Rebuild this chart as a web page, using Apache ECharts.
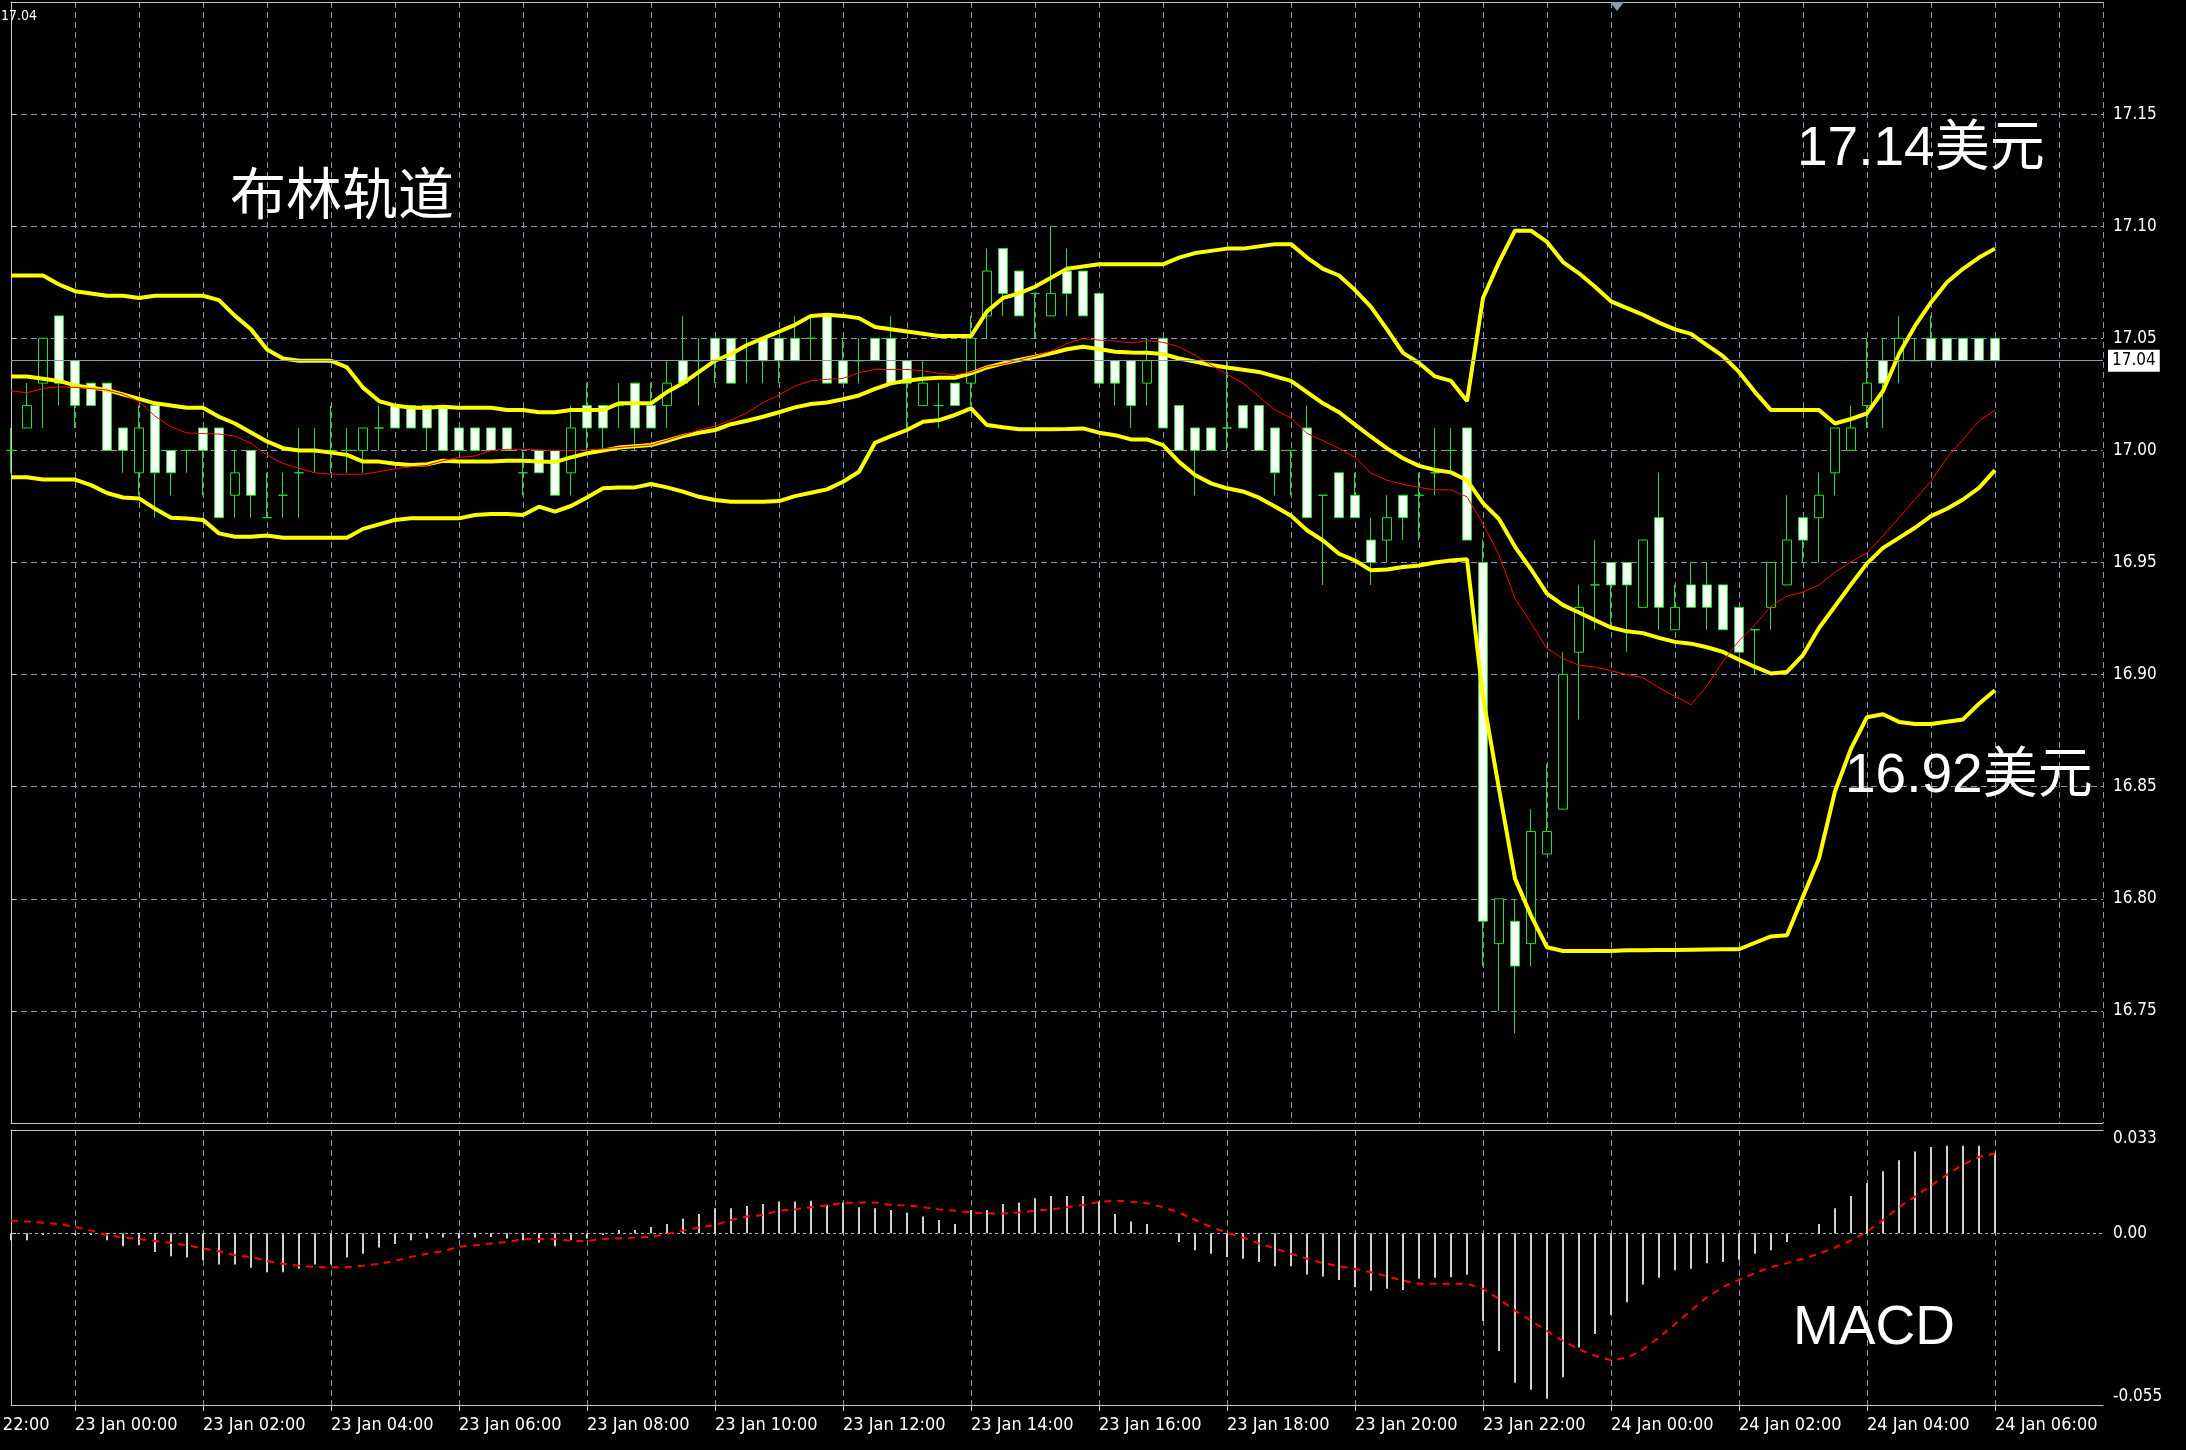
<!DOCTYPE html>
<html>
<head>
<meta charset="utf-8">
<script src="https://cdn.jsdelivr.net/npm/echarts@6/dist/echarts.min.js"></script>
<style>
html,body{margin:0;padding:0;background:#000;}
#chart{width:2186px;height:1450px;}
</style>
</head>
<body>
<div id="chart"></div>
<script>
// ---- time axis: labels every 2 hours (bars are 15 minutes, first bar 22 Jan 23:00) ----
const timeLabels = ['22 Jan 22:00','23 Jan 00:00','23 Jan 02:00','23 Jan 04:00','23 Jan 06:00','23 Jan 08:00',
  '23 Jan 10:00','23 Jan 12:00','23 Jan 14:00','23 Jan 16:00','23 Jan 18:00','23 Jan 20:00',
  '23 Jan 22:00','24 Jan 00:00','24 Jan 02:00','24 Jan 04:00','24 Jan 06:00'];
const barsPerLabel = 8;        // 2 hours of 15-minute bars
const firstLabelBar = -4;      // 22 Jan 22:00 is 4 bars before the first bar (23:00)

// ---- candles ----
const openPrices = [
  17.00,17.01,17.03,17.06,17.04,17.03,17.03,17.01,16.99,17.02,
  17.00,17.00,17.01,17.01,16.98,17.00,16.97,16.98,16.99,17.00,
  17.00,17.00,17.00,17.01,17.02,17.02,17.02,17.02,17.01,17.01,
  17.01,17.01,16.99,17.00,17.00,16.99,17.02,17.02,17.02,17.03,
  17.02,17.02,17.04,17.04,17.05,17.05,17.04,17.05,17.05,17.05,
  17.05,17.06,17.04,17.04,17.05,17.05,17.04,17.02,17.02,17.03,
  17.03,17.06,17.09,17.08,17.07,17.06,17.08,17.08,17.07,17.04,
  17.04,17.03,17.05,17.02,17.01,17.01,17.01,17.02,17.02,17.01,
  17.00,17.01,16.98,16.99,16.98,16.96,16.96,16.98,16.98,16.99,
  17.00,17.01,16.95,16.78,16.79,16.78,16.82,16.84,16.91,16.94,
  16.95,16.95,16.93,16.97,16.92,16.94,16.94,16.94,16.93,16.92,
  16.93,16.94,16.97,16.97,16.99,17.00,17.02,17.04,17.04,17.04,
  17.05,17.05,17.05,17.05,17.05];
const closePrices = [
  17.00,17.02,17.05,17.03,17.02,17.02,17.00,17.00,17.01,16.99,
  16.99,17.00,17.00,16.97,16.99,16.98,16.97,16.98,16.99,17.00,
  17.00,17.00,17.01,17.01,17.01,17.01,17.01,17.00,17.00,17.00,
  17.00,17.00,16.99,16.99,16.98,17.01,17.01,17.01,17.02,17.01,
  17.01,17.03,17.03,17.04,17.04,17.03,17.04,17.04,17.04,17.04,
  17.05,17.03,17.03,17.04,17.04,17.03,17.03,17.03,17.02,17.02,
  17.05,17.08,17.07,17.06,17.07,17.07,17.07,17.06,17.03,17.03,
  17.02,17.04,17.01,17.00,17.00,17.00,17.01,17.01,17.00,16.99,
  17.00,16.97,16.98,16.97,16.97,16.95,16.97,16.97,16.98,16.99,
  17.00,16.96,16.79,16.80,16.77,16.83,16.83,16.90,16.93,16.94,
  16.94,16.94,16.96,16.93,16.93,16.93,16.93,16.92,16.91,16.92,
  16.95,16.96,16.96,16.98,17.01,17.01,17.03,17.03,17.05,17.04,
  17.04,17.04,17.04,17.04,17.04];
const lowPrices = [
  16.99,17.01,17.01,17.02,17.01,17.02,17.00,16.99,16.98,16.97,
  16.98,16.99,16.98,16.97,16.97,16.97,16.97,16.97,16.97,16.99,
  16.99,16.99,16.99,17.00,17.01,17.01,17.00,17.00,17.00,17.00,
  17.00,17.00,16.98,16.99,16.98,16.98,17.00,17.00,17.01,17.00,
  17.01,17.01,17.03,17.02,17.03,17.03,17.03,17.03,17.03,17.04,
  17.04,17.03,17.03,17.03,17.04,17.03,17.01,17.02,17.01,17.02,
  17.02,17.05,17.06,17.06,17.05,17.06,17.06,17.06,17.03,17.02,
  17.01,17.02,17.01,17.00,16.98,17.00,17.00,17.01,17.00,16.98,
  16.98,16.97,16.94,16.97,16.97,16.94,16.95,16.96,16.96,16.98,
  16.99,16.96,16.77,16.75,16.74,16.77,16.82,16.84,16.88,16.92,
  16.92,16.91,16.93,16.92,16.92,16.93,16.92,16.92,16.91,16.90,
  16.92,16.94,16.95,16.95,16.98,17.00,17.01,17.01,17.03,17.04,
  17.04,17.04,17.04,17.04,17.04];
const highPrices = [
  17.01,17.03,17.05,17.06,17.04,17.03,17.03,17.01,17.02,17.02,
  17.00,17.00,17.01,17.01,17.00,17.00,16.99,16.99,17.01,17.01,
  17.02,17.01,17.01,17.02,17.02,17.02,17.02,17.02,17.01,17.01,
  17.01,17.01,17.00,17.00,17.00,17.02,17.03,17.02,17.03,17.03,
  17.03,17.04,17.06,17.05,17.05,17.05,17.05,17.05,17.05,17.06,
  17.06,17.06,17.05,17.05,17.05,17.06,17.04,17.04,17.03,17.03,
  17.06,17.09,17.09,17.08,17.07,17.10,17.09,17.08,17.07,17.04,
  17.04,17.05,17.05,17.02,17.01,17.01,17.04,17.02,17.02,17.01,
  17.00,17.02,16.98,16.99,16.99,16.97,16.98,16.98,16.99,17.01,
  17.01,17.01,16.96,16.80,16.80,16.84,16.86,16.91,16.94,16.96,
  16.95,16.95,16.96,16.99,16.94,16.95,16.95,16.94,16.93,16.92,
  16.95,16.98,16.97,16.99,17.01,17.02,17.05,17.05,17.06,17.05,
  17.06,17.05,17.05,17.05,17.05];

// ---- Bollinger bands and red moving average (read per bar) ----
const bandUpper = [
  17.078,17.078,17.078,17.074,17.071,17.070,17.069,17.069,17.068,17.069,
  17.069,17.069,17.069,17.067,17.060,17.054,17.045,17.041,17.040,17.040,
  17.040,17.037,17.028,17.022,17.020,17.019,17.019,17.0195,17.019,17.019,
  17.019,17.018,17.018,17.017,17.017,17.018,17.018,17.018,17.021,17.021,
  17.021,17.026,17.030,17.035,17.040,17.043,17.047,17.050,17.053,17.056,
  17.060,17.0605,17.060,17.059,17.055,17.054,17.053,17.052,17.051,17.051,
  17.051,17.062,17.068,17.070,17.073,17.077,17.081,17.082,17.083,17.083,
  17.083,17.083,17.083,17.086,17.088,17.089,17.090,17.090,17.091,17.092,
  17.092,17.086,17.081,17.078,17.0715,17.064,17.054,17.0435,17.039,17.033,
  17.031,17.022,17.068,17.084,17.098,17.098,17.093,17.084,17.079,17.073,
  17.0665,17.0635,17.0605,17.057,17.054,17.052,17.047,17.042,17.035,17.026,
  17.018,17.018,17.018,17.018,17.012,17.014,17.0165,17.0265,17.043,17.0555,
  17.066,17.075,17.081,17.086,17.090];
const bandMiddle = [
  17.033,17.033,17.032,17.031,17.029,17.028,17.027,17.025,17.023,17.021,
  17.020,17.019,17.019,17.015,17.012,17.008,17.004,17.001,17.000,17.000,
  16.999,16.998,16.995,16.995,16.994,16.9935,16.9938,16.9954,16.995,16.995,
  16.9951,16.9954,16.9954,16.995,16.9948,16.9969,16.9987,16.9999,17.0013,17.0019,
  17.0024,17.0043,17.0064,17.0079,17.0091,17.0117,17.0132,17.015,17.017,17.0192,
  17.0207,17.0214,17.0228,17.0245,17.0274,17.0299,17.0311,17.032,17.0324,17.0324,
  17.0344,17.037,17.0388,17.0403,17.0418,17.0433,17.0451,17.0462,17.0452,17.044,
  17.0437,17.0436,17.043,17.041,17.0396,17.0381,17.037,17.036,17.035,17.033,
  17.031,17.026,17.021,17.017,17.0115,17.0061,17.0009,16.9965,16.9931,16.9913,
  16.9902,16.9867,16.9765,16.9694,16.957,16.947,16.9361,16.931,16.9277,16.9243,
  16.921,16.9193,16.9185,16.9164,16.9146,16.9138,16.9122,16.9101,16.9067,16.9034,
  16.9005,16.9012,16.9087,16.9208,16.9305,16.9402,16.9496,16.9565,16.961,16.9655,
  16.9707,16.974,16.9781,16.9833,16.9912];
const bandLower = [
  16.988,16.988,16.987,16.987,16.987,16.9845,16.981,16.979,16.9786,16.974,
  16.970,16.9696,16.969,16.963,16.9615,16.9615,16.962,16.961,16.961,16.961,
  16.961,16.961,16.965,16.967,16.969,16.9697,16.9697,16.9697,16.9697,16.9712,
  16.9716,16.9716,16.9712,16.9749,16.9727,16.9752,16.979,16.9831,16.9834,16.9835,
  16.985,16.9835,16.9816,16.9793,16.9779,16.9771,16.9771,16.9771,16.9774,16.9796,
  16.9811,16.9826,16.986,16.9905,17.0034,17.0064,17.0091,17.0128,17.0135,17.0158,
  17.0187,17.0113,17.0103,17.0094,17.0094,17.0094,17.0095,17.0098,17.0079,17.0068,
  17.0049,17.0049,17.0024,16.9949,16.989,16.9853,16.9831,16.9817,16.9789,16.975,
  16.9709,16.9644,16.9598,16.9539,16.9509,16.9465,16.9469,16.948,16.9487,16.95,
  16.9509,16.9515,16.890,16.849,16.809,16.7925,16.7784,16.7767,16.7767,16.7767,
  16.7767,16.777,16.777,16.7772,16.7772,16.7773,16.7774,16.7775,16.7775,16.7804,
  16.7832,16.7837,16.801,16.818,16.848,16.867,16.881,16.8823,16.8789,16.878,
  16.878,16.879,16.880,16.887,16.893];
const maRed = [
  17.0266,17.0257,17.0276,17.0284,17.0281,17.0276,17.0269,17.0251,17.0217,17.0153,
  17.0105,17.0078,17.0075,17.0073,17.0064,17.0031,16.9979,16.9942,16.992,16.990,
  16.9894,16.9894,16.9894,16.9905,16.9918,16.9927,16.9933,16.9954,16.9969,16.9975,
  16.9999,17.0005,17.0005,17.0002,16.9999,17.0000,17.0002,17.0007,17.0013,17.0019,
  17.0024,17.0046,17.0068,17.0091,17.0109,17.0135,17.0168,17.0213,17.0247,17.0287,
  17.0311,17.0317,17.0321,17.0347,17.0361,17.0361,17.0361,17.0355,17.0344,17.0338,
  17.0348,17.0373,17.0385,17.0403,17.0421,17.0443,17.0477,17.0498,17.0492,17.0488,
  17.048,17.0489,17.0482,17.0462,17.0425,17.038,17.034,17.030,17.024,17.018,
  17.0145,17.0076,17.0043,17.0009,16.9969,16.9898,16.9867,16.9848,16.9835,16.9824,
  16.9824,16.9793,16.9672,16.9533,16.934,16.923,16.9117,16.9072,16.9042,16.9034,
  16.9017,16.900,16.8987,16.8941,16.8903,16.8866,16.895,16.9059,16.9151,16.9223,
  16.9305,16.935,16.9368,16.94,16.9457,16.9503,16.9543,16.9618,16.97,16.9781,
  16.9863,16.9967,17.0049,17.0131,17.018];

// ---- MACD ----
const macdHist = [
  -0.0023,-0.0023,-0.0006,-0.0003,-0.0006,-0.0006,-0.0023,-0.0042,-0.0039,-0.0060,
  -0.0074,-0.0078,-0.0087,-0.0100,-0.0100,-0.0111,-0.0125,-0.0125,-0.0114,-0.0100,
  -0.0100,-0.0078,-0.0066,-0.0046,-0.0035,-0.0023,-0.0017,-0.0014,-0.0017,-0.0014,
  -0.0012,-0.0017,-0.0023,-0.0031,-0.0042,-0.0023,-0.0017,-0.0006,0.0010,0.0010,
  0.0020,0.0029,0.0047,0.0061,0.0080,0.0080,0.0087,0.0093,0.0101,0.0101,
  0.0104,0.0090,0.0098,0.0083,0.0080,0.0074,0.0066,0.0053,0.0042,0.0029,
  0.0074,0.0074,0.0093,0.0098,0.0112,0.0119,0.0119,0.0119,0.0101,0.0061,
  0.0037,0.0029,-0.0001,-0.0028,-0.0055,-0.0066,-0.0076,-0.0082,-0.0092,-0.0106,
  -0.0106,-0.0132,-0.0139,-0.0150,-0.0173,-0.0184,-0.0178,-0.0182,-0.0146,-0.0143,
  -0.0141,-0.0133,-0.0281,-0.0377,-0.0479,-0.0501,-0.0530,-0.0461,-0.0366,-0.0323,
  -0.0261,-0.0221,-0.0164,-0.0143,-0.0119,-0.0114,-0.0096,-0.0092,-0.0085,-0.0066,
  -0.0055,-0.0028,-0.0001,0.0029,0.0080,0.0119,0.0160,0.0198,0.0233,0.0261,
  0.0276,0.0280,0.0280,0.0280,0.0257];
const macdSignal = [
  0.0040,0.0037,0.0033,0.0029,0.0020,0.0008,-0.0006,-0.0014,-0.0019,-0.0025,
  -0.0031,-0.0039,-0.0049,-0.0058,-0.0071,-0.0076,-0.0089,-0.0098,-0.0104,-0.0109,
  -0.0109,-0.0109,-0.0104,-0.0098,-0.0089,-0.0076,-0.0066,-0.0058,-0.0044,-0.0039,
  -0.0033,-0.0028,-0.0020,-0.0019,-0.0019,-0.0025,-0.0025,-0.0019,-0.0017,-0.0014,
  -0.0012,-0.0003,0.0008,0.0018,0.0026,0.0042,0.0053,0.0058,0.0072,0.0076,
  0.0083,0.0089,0.0096,0.0098,0.0098,0.0090,0.0089,0.0083,0.0076,0.0072,
  0.0066,0.0063,0.0063,0.0066,0.0072,0.0076,0.0083,0.0090,0.0100,0.0104,
  0.0100,0.0096,0.0083,0.0066,0.0042,0.0020,0.0001,-0.0014,-0.0033,-0.0049,
  -0.0066,-0.0082,-0.0096,-0.0106,-0.0115,-0.0125,-0.0138,-0.0152,-0.0162,-0.0162,
  -0.0162,-0.0162,-0.0178,-0.0211,-0.0248,-0.0280,-0.0313,-0.0345,-0.0372,-0.0393,
  -0.0407,-0.0399,-0.0372,-0.0334,-0.0291,-0.0248,-0.0205,-0.0173,-0.0149,-0.0128,
  -0.0109,-0.0096,-0.0082,-0.0066,-0.0046,-0.0023,0.0004,0.0042,0.0083,0.0117,
  0.0152,0.0187,0.0219,0.0244,0.0255];

const currentPrice = 17.04;
const titleText = '布林轨道';
const upperNote = '17.14美元';
const lowerNote = '16.92美元';
const macdNote = 'MACD';

// ---- build ----
const labelValue = k => firstLabelBar + k * barsPerLabel;
const tickValues = timeLabels.map((_, k) => labelValue(k)).filter(v => v >= 0);
const candleData = openPrices.map((o, i) => [i, o, closePrices[i], lowPrices[i], highPrices[i]]);
const toXY = arr => arr.map((v, i) => [i, v]);

const GRID_COLOR = '#8596aa';
const FRAME = '#c8c8c8';
const GREEN = '#22e022';
const AXIS_FONT = '"Liberation Sans Narrow", "DejaVu Sans Condensed", "Liberation Sans", sans-serif';
const BIG_FONT = '"Liberation Sans", "Noto Sans CJK SC", sans-serif';
const X_MAX = 130.75;

const chart = echarts.init(document.getElementById('chart'), null, {renderer: 'canvas'});

function xAxisBase(grid, pos, withGrid) {
  return {
    gridIndex: grid, type: 'value', min: 0, max: X_MAX, interval: 4, position: pos,
    axisLine: {show: true, onZero: false, lineStyle: {color: FRAME, width: 1}},
    axisTick: {show: false}, axisLabel: {show: false},
    splitLine: {show: withGrid, lineStyle: {color: GRID_COLOR, type: [6, 4], width: 1}}
  };
}
const macdX = xAxisBase(1, 'bottom', true);
macdX.axisTick = {show: true, customValues: tickValues, length: 6, lineStyle: {color: FRAME}};
macdX.axisLabel = {
  show: true, customValues: tickValues, color: '#ffffff', fontSize: 18, fontFamily: AXIS_FONT,
  align: 'left', margin: 11,
  formatter: v => timeLabels[Math.round((v - firstLabelBar) / barsPerLabel)] || ''
};

const option = {
  backgroundColor: '#000000',
  animation: false,
  grid: [
    {left: 11, top: 2, width: 2092, height: 1121},
    {left: 11, top: 1130, width: 2092, height: 275}
  ],
  xAxis: [
    xAxisBase(0, 'bottom', true),
    xAxisBase(0, 'top', false),
    macdX,
    xAxisBase(1, 'top', false)
  ],
  yAxis: [
    {
      gridIndex: 0, type: 'value', position: 'right', min: 16.70, max: 17.20, interval: 0.05,
      axisLine: {show: true, lineStyle: {color: FRAME}},
      axisTick: {show: true, length: 5, lineStyle: {color: FRAME}},
      axisLabel: {color: '#ffffff', fontSize: 17, fontFamily: AXIS_FONT, margin: 10,
        formatter: v => (v < 16.72 || v > 17.18) ? '' : v.toFixed(2)},
      splitLine: {show: true, lineStyle: {color: GRID_COLOR, type: [6, 4], width: 1}}
    },
    {
      gridIndex: 1, type: 'value', position: 'right', min: -0.055, max: 0.033, interval: 0.055,
      axisLine: {show: true, lineStyle: {color: FRAME}},
      axisTick: {show: true, length: 5, lineStyle: {color: FRAME}},
      axisLabel: {color: '#ffffff', fontSize: 17, fontFamily: AXIS_FONT, margin: 10,
        verticalAlignMinLabel: 'bottom', verticalAlignMaxLabel: 'top',
        formatter: v => Math.abs(v) < 1e-9 ? '0.00' : v.toFixed(3)},
      splitLine: {show: true, lineStyle: {color: '#a0aebe', type: [3, 3], width: 1}}
    }
  ],
  series: [
    {
      type: 'candlestick', xAxisIndex: 0, yAxisIndex: 0, clip: false,
      data: candleData, encode: {x: 0, y: [1, 2, 3, 4]},
      barWidth: 9,
      itemStyle: {color: '#000000', color0: '#ffffff', borderColor: GREEN, borderColor0: GREEN,
        borderColorDoji: GREEN, borderWidth: 1},
      markLine: {
        silent: true, symbol: ['none', 'none'], animation: false,
        data: [{yAxis: currentPrice}],
        lineStyle: {color: '#8a9aab', type: 'solid', width: 1},
        label: {show: true, position: 'end', distance: 5, formatter: currentPrice.toFixed(2),
          color: '#000000', backgroundColor: '#ffffff', padding: [3, 4, 2, 4],
          fontSize: 17, fontFamily: AXIS_FONT}
      }
    },
    {type: 'line', xAxisIndex: 0, yAxisIndex: 0, data: toXY(bandUpper), symbol: 'none',
      lineStyle: {color: '#ffff00', width: 4}},
    {type: 'line', xAxisIndex: 0, yAxisIndex: 0, data: toXY(bandMiddle), symbol: 'none',
      lineStyle: {color: '#ffff00', width: 4}},
    {type: 'line', xAxisIndex: 0, yAxisIndex: 0, data: toXY(bandLower), symbol: 'none',
      lineStyle: {color: '#ffff00', width: 4}},
    {type: 'line', xAxisIndex: 0, yAxisIndex: 0, data: toXY(maRed), symbol: 'none',
      lineStyle: {color: '#ff0000', width: 1}},
    {type: 'bar', xAxisIndex: 2, yAxisIndex: 1, data: toXY(macdHist), barWidth: 2,
      itemStyle: {color: '#d0d0d0'}},
    {type: 'line', xAxisIndex: 2, yAxisIndex: 1, data: toXY(macdSignal), symbol: 'none',
      lineStyle: {color: '#ff0000', width: 2, type: [7, 6]}}
  ],
  graphic: [
    {type: 'text', x: 230, y: 193, z: 100, style: {text: titleText, fill: '#ffffff', fontSize: 56,
      fontFamily: '"Noto Sans CJK SC", sans-serif', verticalAlign: 'middle'}},
    {type: 'text', x: 1797, y: 150, z: 100, style: {text: upperNote, fill: '#ffffff', fontSize: 55,
      fontFamily: BIG_FONT, verticalAlign: 'middle'}},
    {type: 'text', x: 1845, y: 777, z: 100, style: {text: lowerNote, fill: '#ffffff', fontSize: 55,
      fontFamily: BIG_FONT, verticalAlign: 'middle'}},
    {type: 'text', x: 1793, y: 1329, z: 100, style: {text: macdNote, fill: '#ffffff', fontSize: 55,
      fontFamily: BIG_FONT, verticalAlign: 'middle'}},
    {type: 'text', x: 1, y: 16, z: 100, style: {text: currentPrice.toFixed(2), fill: '#ffffff', fontSize: 14,
      fontFamily: AXIS_FONT, verticalAlign: 'middle'}},
    {type: 'polygon', z: 100, shape: {points: [[1610, 2], [1624, 2], [1617, 11]]}, style: {fill: '#8b9cb0'}}
  ]
};
chart.setOption(option);

// first time label (22 Jan 22:00) sits left of the plot; place it via the axis scale so only its tail shows
const firstX = chart.convertToPixel({xAxisIndex: 2}, labelValue(0));
const axisY = chart.convertToPixel({yAxisIndex: 1}, -0.055);
chart.setOption({graphic: option.graphic.concat([
  {type: 'text', x: firstX, y: axisY + 11, z: 100, style: {text: timeLabels[0], fill: '#ffffff',
    fontSize: 18, fontFamily: AXIS_FONT, verticalAlign: 'top', align: 'left'}}
])});
</script>
</body>
</html>
